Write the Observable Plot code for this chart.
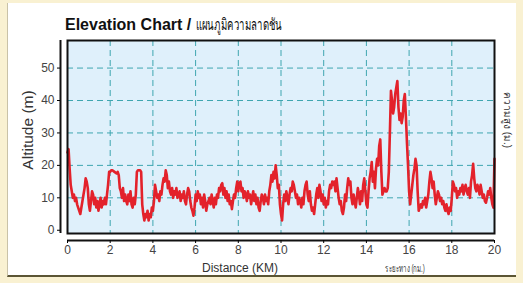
<!DOCTYPE html>
<html>
<head>
<meta charset="utf-8">
<script src="https://cdn.jsdelivr.net/npm/d3@7"></script>
<script src="https://cdn.jsdelivr.net/npm/@observablehq/plot@0.6"></script>
<style>
  html, body { margin:0; padding:0; }
  body { width:523px; height:283px; background:#f9f1d2; position:relative; overflow:hidden; font-family:"Liberation Sans", Arial, sans-serif; }
  #panel { position:absolute; left:7px; top:3px; width:509px; height:274px; background:#fff; border-left:1px solid #c9c2a8; border-bottom:2px solid #5b5534; box-sizing:border-box; }
  #chart { position:absolute; left:0; top:0; }
  .t { position:absolute; white-space:nowrap; color:#222; }
  #title { left:65px; top:12px; font-size:16px; font-weight:bold; color:#111; }
  #title span { font-weight:normal; display:inline-block; font-size:16px; transform:scaleX(0.6); transform-origin:left center; }
  #ylab { left:28px; top:130px; font-size:15.5px; transform:translate(-50%,-50%) rotate(-90deg); color:#333; }
  #ylab2 { left:507px; top:120px; font-size:10px; transform:translate(-50%,-50%) rotate(90deg); color:#333; }
  #xlab { left:240px; top:268px; font-size:12px; transform:translate(-50%,-50%); color:#333; }
  #xlab2 { left:405px; top:268px; font-size:10.5px; transform:translate(-50%,-50%) scaleX(0.58); color:#333; }
</style>
</head>
<body>
<div id="panel"></div>
<div id="chart"></div>
<div class="t" id="title">Elevation Chart / <span>แผนภูมิความลาดชัน</span></div>
<div class="t" id="ylab">Altitude (m)</div>
<div class="t" id="ylab2">ความสูง (ม.)</div>
<div class="t" id="xlab">Distance (KM)</div>
<div class="t" id="xlab2">ระยะทาง (กม.)</div>
<script>
const distance = [
0.00,0.05,0.10,0.15,0.20,0.25,0.30,0.35,0.40,0.45,0.50,0.55,0.60,0.65,0.70,0.75,0.80,0.85,0.90,0.95,
1.00,1.05,1.10,1.15,1.20,1.25,1.30,1.35,1.40,1.45,1.50,1.55,1.60,1.65,1.70,1.75,1.80,1.85,1.90,1.95,
2.00,2.05,2.10,2.20,2.30,2.35,2.40,2.45,2.50,2.55,2.60,2.65,2.70,2.75,2.80,2.85,2.90,2.95,
3.00,3.05,3.10,3.15,3.20,3.25,3.30,3.40,3.45,3.50,3.55,3.60,3.65,3.70,3.75,3.80,3.85,3.90,3.95,
4.00,4.05,4.10,4.15,4.20,4.25,4.30,4.35,4.40,4.45,4.50,4.55,4.60,4.65,4.70,4.75,4.80,4.85,4.90,4.95,
5.00,5.05,5.10,5.15,5.20,5.25,5.30,5.35,5.40,5.45,5.50,5.55,5.60,5.65,5.70,5.75,5.80,5.85,5.90,5.95,
6.00,6.05,6.10,6.15,6.20,6.25,6.30,6.35,6.40,6.45,6.50,6.55,6.60,6.65,6.70,6.75,6.80,6.85,6.90,6.95,
7.00,7.05,7.10,7.15,7.20,7.25,7.30,7.35,7.40,7.45,7.50,7.55,7.60,7.65,7.70,7.75,7.80,7.85,7.90,7.95,
8.00,8.05,8.10,8.15,8.20,8.25,8.30,8.35,8.40,8.45,8.50,8.55,8.60,8.65,8.70,8.75,8.80,8.85,8.90,8.95,
9.00,9.05,9.10,9.15,9.20,9.25,9.30,9.35,9.40,9.45,9.50,9.55,9.60,9.65,9.70,9.75,9.80,9.85,9.90,9.95,
10.00,10.05,10.10,10.15,10.20,10.25,10.30,10.35,10.40,10.45,10.50,10.55,10.60,10.65,10.70,10.75,10.80,10.85,10.90,10.95,
11.00,11.05,11.10,11.15,11.20,11.25,11.30,11.35,11.40,11.45,11.50,11.55,11.60,11.65,11.70,11.75,11.80,11.85,11.90,11.95,
12.00,12.05,12.10,12.15,12.20,12.25,12.30,12.35,12.40,12.45,12.50,12.55,12.60,12.65,12.70,12.75,12.80,12.85,12.90,12.95,
13.00,13.05,13.10,13.15,13.20,13.25,13.30,13.35,13.40,13.45,13.50,13.55,13.60,13.65,13.70,13.75,13.80,13.85,13.90,13.95,
14.00,14.05,14.10,14.15,14.20,14.25,14.30,14.35,14.40,14.45,14.50,14.55,14.60,14.65,14.70,14.75,14.80,14.85,14.90,14.95,
15.00,15.05,15.10,15.15,15.20,15.25,15.30,15.35,15.40,15.45,15.50,15.55,15.60,15.65,15.70,15.75,15.80,15.85,15.90,15.95,
16.00,16.05,16.10,16.15,16.20,16.25,16.30,16.35,16.40,16.45,16.50,16.55,16.60,16.65,16.70,16.75,16.80,16.85,16.90,16.95,
17.00,17.05,17.10,17.15,17.20,17.25,17.30,17.35,17.40,17.45,17.50,17.55,17.60,17.65,17.70,17.75,17.80,17.85,17.90,17.95,
18.00,18.05,18.10,18.15,18.20,18.25,18.30,18.35,18.40,18.45,18.50,18.55,18.60,18.65,18.70,18.75,18.80,18.85,18.90,18.95,
19.00,19.05,19.10,19.15,19.20,19.25,19.30,19.35,19.40,19.45,19.50,19.55,19.60,19.65,19.70,19.75,19.80,19.85,19.90,19.95,
20.00
];
const altitude = [
24,25,19,14,12,10,11,9,10,8,7,6,5,7,9,11,13,16,15,13,
8,6,9,12,11,8,10,7,9,6,8,10,7,9,8,10,8,11,14,18,
18,18.5,18.5,18,17.5,18,17,13,12,10,13,9,11,9,8,11,9,12,
8,7,10,8,11,18,18.5,18.5,18,8,5,3,5,4,6,3,5,4,7,
6,9,14,12,10,11,9,12,11,14,16,15,18.5,17,13,15,12,11,13,10,
12,11,13,10,11,12,9,11,10,12,9,8,11,13,12,9,7,6,4.5,7,
11,9,12,10,11,8,10,7,11,9,6,8,9,10,8,11,9,7,10,8,
11,10,13,12,14,14.5,11,13,10,12,9,11,8,9,6.5,9,11,10,13,15,
12,14.5,15,12,13,10,12,11,9,12,10,11,8,10,12,9,11,8,10,7,
6,9,11,10,8,11,9,10,8,12,14,17,15,18,16,20,17,13,14,8,
5,3,8,11,9,12,10,8,11,13,12,15,14,12,10,11,8,10,9,7,
10,8,12,14,15,11,9,12,8,6,7,5,8,11,13,10,14,12,9,11,
8,10,7,9,8,12,14,13,15,14,15,12,16,13,10,8,9,6,5,7,
11,9,13,16,14,15,10,8,11,9,7,10,13,11,8,12,9,14,16,12,
8,7,12,16,18,21,15,18,13,19,22,20,26,28,18,11,12,13,12,12,
13,18,30,43,40,36,38,42,44,46,38,34,36,33,35,40,42,35,27,20,
12,8,11,14,17,19,22,20,12,6,7,8,7,9,8,10,7,9,11,15,
18,16,13,15,11,8,10,12,11,9,10,8,9,7,6,8,6,5,7,6,
10,15,14,12,13,10,12,11,13,12,14,11,13,14,12,11,13,10,15,17,
20.5,16,13,12,14,13,11,14,12,10,11,9,8.5,10,12,11,13,10,8,7,
22
];
const xTicks = [0,2,4,6,8,10,12,14,16,18,20];
const xGrid = [2,4,6,8,10,12,14,16,18];
const yTicks = [0,10,20,30,40,50];
const yGrid = [10,20,30,40,50];

const data = distance.map((d, i) => ({d, a: altitude[i]}));

const chart = Plot.plot({
  width: 523,
  height: 283,
  marginLeft: 67,
  marginRight: 29,
  marginTop: 40,
  marginBottom: 50,
  style: {background: "transparent", fontFamily: "Liberation Sans, Arial, sans-serif"},
  x: {domain: [0, 20]},
  y: {domain: [-1, 58.5]},
  marks: [
    Plot.frame({fill: "#dff0fb", stroke: null}),
    Plot.gridX(xGrid, {stroke: "#3fa6b0", strokeOpacity: 1, strokeWidth: 1, strokeDasharray: "6,4"}),
    Plot.gridY(yGrid, {stroke: "#3fa6b0", strokeOpacity: 1, strokeWidth: 1, strokeDasharray: "6,4"}),
    Plot.line(data, {x: "d", y: "a", stroke: "#e3222b", strokeWidth: 2.6, strokeLinejoin: "round"}),
    Plot.frame({stroke: "#111", strokeWidth: 2}),
    Plot.ruleX([0], {dx: -7, stroke: "#111", strokeWidth: 2}),
    Plot.ruleY([-1], {dy: 7, stroke: "#111", strokeWidth: 2}),
    Plot.axisY(yTicks, {dx: -7, tickSize: 3, tickPadding: 3, fontSize: 12, fill: "#444", label: null}),
    Plot.axisX(xTicks, {dy: 7, tickSize: 3, tickPadding: 2, fontSize: 12, fill: "#444", label: null})
  ]
});
document.getElementById("chart").appendChild(chart);
</script>
</body>
</html>
